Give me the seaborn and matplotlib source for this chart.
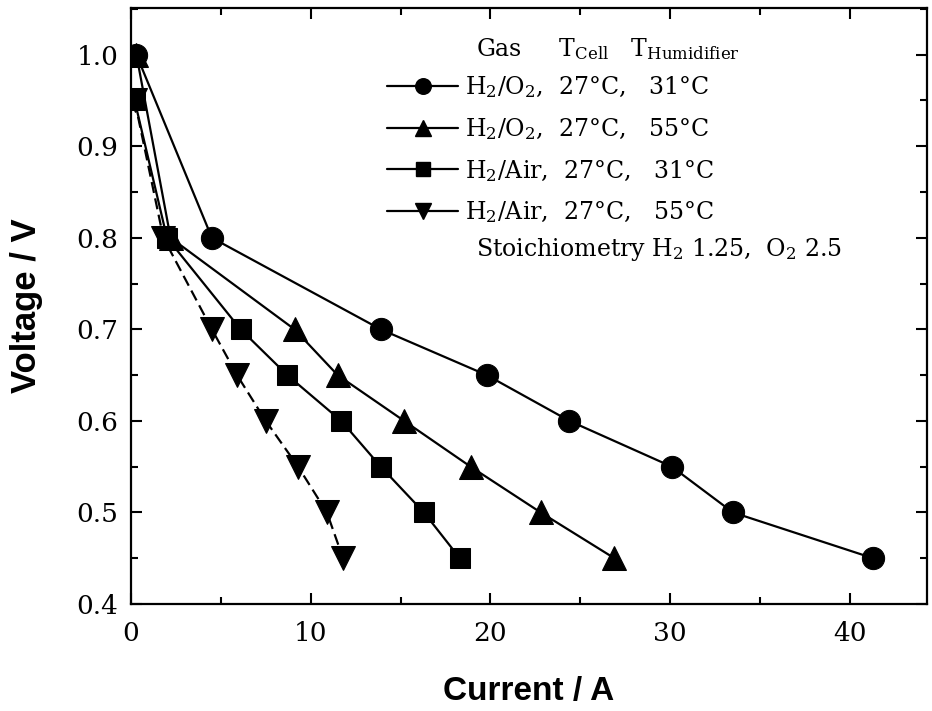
import numpy as np
import pandas as pd
import matplotlib
matplotlib.use("Agg")
import matplotlib.pyplot as plt
from matplotlib.lines import Line2D
from matplotlib.ticker import MultipleLocator, FormatStrFormatter
import seaborn as sns

# ── data ─────────────────────────────────────────────────────────────────────
o2_31_current = [0.3, 4.5, 13.9, 19.8, 24.4, 30.1, 33.5, 41.3]
o2_31_voltage = [1.00, 0.80, 0.70, 0.65, 0.60, 0.55, 0.50, 0.45]

o2_55_current = [0.3, 2.2, 9.1, 11.5, 15.2, 18.9, 22.8, 26.9]
o2_55_voltage = [1.00, 0.80, 0.70, 0.65, 0.60, 0.55, 0.50, 0.45]

air_31_current = [0.2, 2.0, 6.1, 8.7, 11.7, 13.9, 16.3, 18.3]
air_31_voltage = [0.95, 0.80, 0.70, 0.65, 0.60, 0.55, 0.50, 0.45]

air_55_current = [0.2, 1.8, 4.5, 5.9, 7.5, 9.3, 10.9, 11.8]
air_55_voltage = [0.95, 0.80, 0.70, 0.65, 0.60, 0.55, 0.50, 0.45]

labels = [r'H$_2$/O$_2$,  27°C,   31°C',
          r'H$_2$/O$_2$,  27°C,   55°C',
          r'H$_2$/Air,  27°C,   31°C',
          r'H$_2$/Air,  27°C,   55°C']

series = [
    (o2_31_current, o2_31_voltage, 'o', 16, '-'),
    (o2_55_current, o2_55_voltage, '^', 17, '-'),
    (air_31_current, air_31_voltage, 's', 14, '-'),
    (air_55_current, air_55_voltage, 'v', 17, (0, (5, 2.5))),
]

sns.set_style('ticks')
plt.rcParams['font.family'] = ['DejaVu Serif']
plt.rcParams['mathtext.fontset'] = 'dejavuserif'
plt.rcParams['text.color'] = 'black'
plt.rcParams['axes.labelcolor'] = 'black'
plt.rcParams['xtick.color'] = 'black'
plt.rcParams['ytick.color'] = 'black'

fig = plt.figure(figsize=(9.32, 7.11), dpi=100)
ax = fig.add_axes([0.1406, 0.1505, 0.8540, 0.8382])

for (x, y, m, ms, ls), lab in zip(series, labels):
    df = pd.DataFrame({'current': x, 'voltage': y})
    sns.lineplot(data=df, x='current', y='voltage', sort=False, estimator=None,
                 color='black', lw=1.6, linestyle=ls, marker=m, markersize=ms,
                 markeredgecolor='black', markerfacecolor='black', ax=ax)

ax.set_xlim(0, 44.3)
ax.set_ylim(0.4, 1.051)
ax.xaxis.set_major_locator(MultipleLocator(10))
ax.xaxis.set_minor_locator(MultipleLocator(5))
ax.yaxis.set_major_locator(MultipleLocator(0.1))
ax.yaxis.set_minor_locator(MultipleLocator(0.05))
ax.yaxis.set_major_formatter(FormatStrFormatter('%.1f'))
ax.tick_params(which='both', direction='in', top=True, right=True, width=1.5,
               colors='black')
ax.tick_params(which='major', length=8, labelsize=19)
ax.tick_params(axis='x', which='major', pad=12)
ax.tick_params(axis='y', which='major', pad=9)
ax.tick_params(which='minor', length=5)
for s in ax.spines.values():
    s.set_linewidth(1.6)
    s.set_visible(True)
    s.set_color('black')

ax.set_xlabel('Current / A', family='Liberation Sans', fontweight='bold',
              fontsize=24, labelpad=22)
ax.set_ylabel('Voltage / V', family='Liberation Sans', fontweight='bold',
              fontsize=25, labelpad=24)

handles = [Line2D([], [], color='black', lw=1.6, marker=m, markersize=ms * 0.7)
           for (_, _, m, ms, _) in series]
ax.legend(handles, labels, loc='upper left', bbox_to_anchor=(0.31, 0.905),
          frameon=False, fontsize=17, handlelength=3.0, handletextpad=0.3,
          labelspacing=0.68, borderaxespad=0)

ax.text(0.433, 0.91, r'Gas     T$_{\mathrm{Cell}}$   T$_{\mathrm{Humidifier}}$',
        transform=ax.transAxes, fontsize=17, va='bottom', ha='left')
ax.text(0.433, 0.595, r'Stoichiometry H$_2$ 1.25,  O$_2$ 2.5',
        transform=ax.transAxes, fontsize=17, va='center', ha='left')

fig.savefig('out.png', dpi=100)
